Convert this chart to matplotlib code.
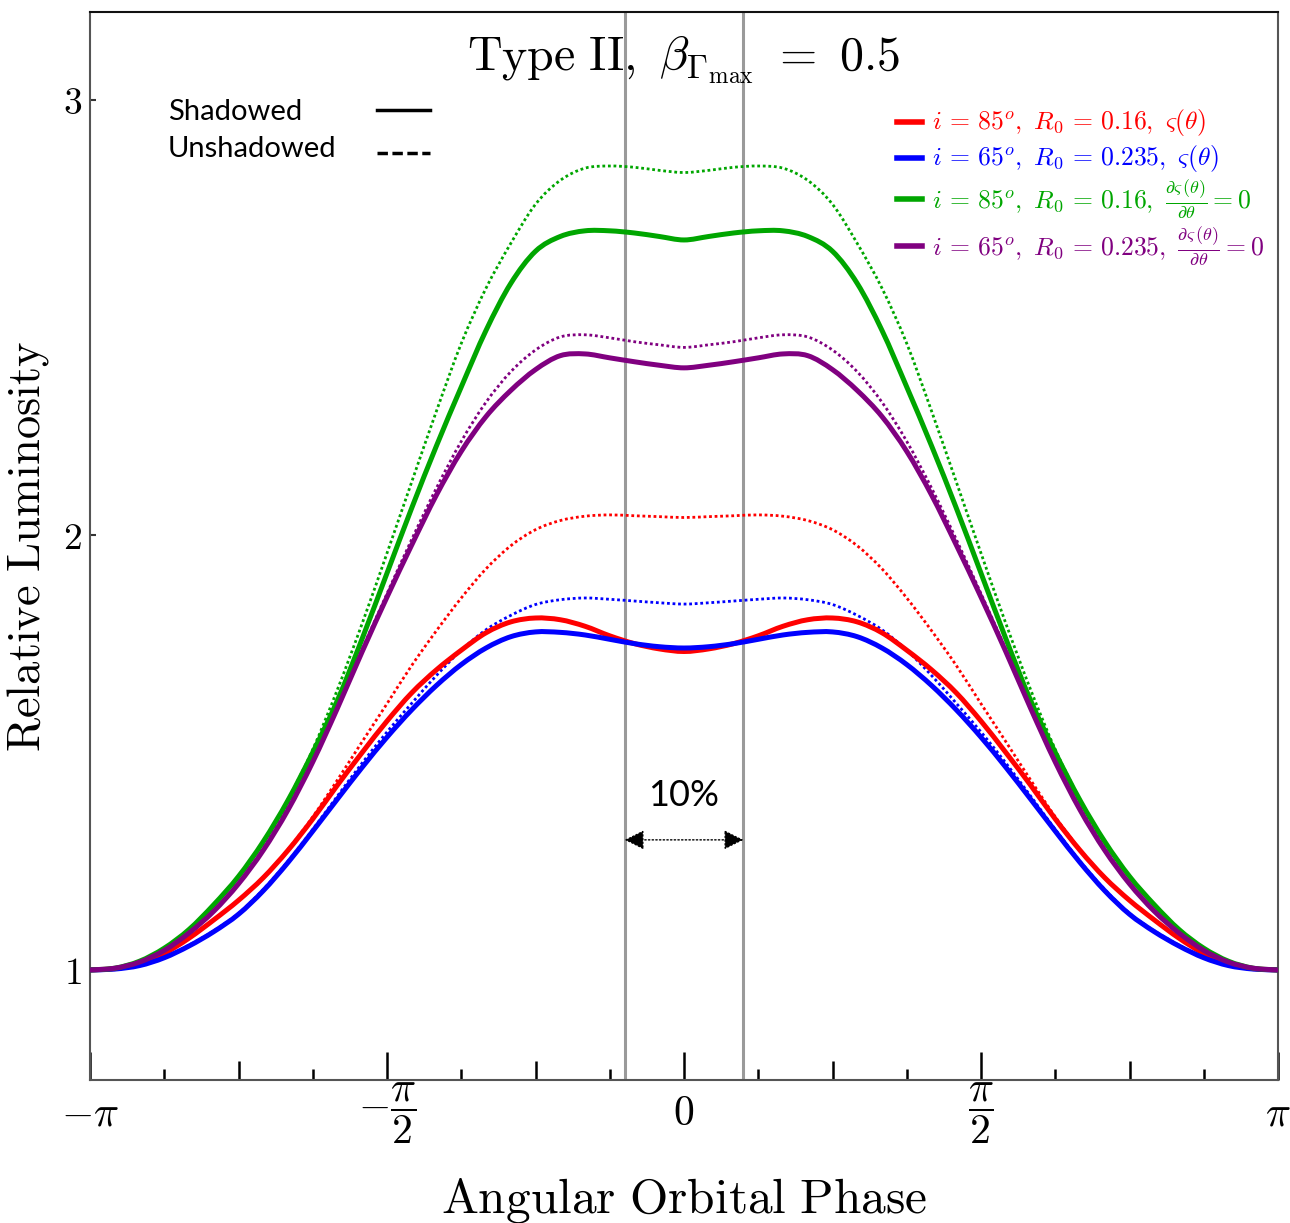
import numpy as np
import matplotlib
matplotlib.use("Agg")
import matplotlib.pyplot as plt
from matplotlib.path import Path
from matplotlib.patches import PathPatch

plt.rcParams["mathtext.fontset"] = "cm"

# phase grid (right half, 0..pi in steps of pi/24); curves are symmetric about 0
phase_half = np.arange(25) * np.pi / 24

# k = 0..24
red_shadowed = [1.732, 1.738, 1.750, 1.768, 1.790, 1.805, 1.809, 1.800, 1.775, 1.735,
                1.690, 1.637, 1.572, 1.500, 1.425, 1.347, 1.275, 1.212, 1.160, 1.115,
                1.073, 1.038, 1.015, 1.003, 1.000]
red_unshadowed = [2.040, 2.042, 2.044, 2.046, 2.043, 2.033, 2.012, 1.975, 1.922, 1.855,
                  1.780, 1.700, 1.612, 1.525, 1.437, 1.352, 1.277, 1.213, 1.161, 1.116,
                  1.074, 1.039, 1.015, 1.003, 1.000]
blue_shadowed = [1.740, 1.743, 1.750, 1.760, 1.770, 1.776, 1.777, 1.766, 1.740, 1.702,
                 1.654, 1.598, 1.535, 1.466, 1.393, 1.319, 1.247, 1.182, 1.128, 1.088,
                 1.055, 1.028, 1.010, 1.002, 1.000]
blue_unshadowed = [1.841, 1.844, 1.848, 1.852, 1.855, 1.851, 1.840, 1.815, 1.782, 1.735,
                   1.677, 1.613, 1.547, 1.476, 1.400, 1.323, 1.250, 1.185, 1.130, 1.090,
                   1.057, 1.029, 1.011, 1.002, 1.000]
green_shadowed = [2.678, 2.686, 2.694, 2.699, 2.699, 2.686, 2.652, 2.578, 2.470, 2.340,
                  2.205, 2.062, 1.912, 1.762, 1.620, 1.500, 1.390, 1.295, 1.215, 1.150,
                  1.093, 1.050, 1.020, 1.004, 1.000]
green_unshadowed = [2.833, 2.838, 2.845, 2.848, 2.843, 2.815, 2.760, 2.670, 2.567, 2.440,
                    2.285, 2.122, 1.958, 1.797, 1.645, 1.507, 1.392, 1.296, 1.216, 1.150,
                    1.093, 1.050, 1.020, 1.004, 1.000]
purple_shadowed = [2.384, 2.390, 2.398, 2.407, 2.416, 2.412, 2.380, 2.332, 2.272, 2.192,
                   2.092, 1.977, 1.857, 1.732, 1.602, 1.478, 1.368, 1.275, 1.198, 1.135,
                   1.085, 1.045, 1.018, 1.004, 1.000]
purple_unshadowed = [2.431, 2.437, 2.444, 2.453, 2.460, 2.455, 2.425, 2.375, 2.305, 2.215,
                     2.108, 1.990, 1.865, 1.738, 1.610, 1.487, 1.375, 1.280, 1.200, 1.137,
                     1.087, 1.046, 1.018, 1.004, 1.000]

legend_labels = [r"$i\,=\,85^o,\ R_0\,=\,0.16,\ \varsigma(\theta)$",
                 r"$i\,=\,65^o,\ R_0\,=\,0.235,\ \varsigma(\theta)$",
                 r"$i\,=\,85^o,\ R_0\,=\,0.16,\ \frac{\partial\varsigma\,(\theta)}{\partial\theta}{=}0$",
                 r"$i\,=\,65^o,\ R_0\,=\,0.235,\ \frac{\partial\varsigma\,(\theta)}{\partial\theta}{=}0$"]
colors = ["#ff0000", "#0000ff", "#00a600", "#800080"]

window = 0.1 * np.pi  # 10% of the orbit either side


def full(half):
    half = np.asarray(half)
    return np.concatenate([half[::-1], half[1:]])


def smooth_path(x, y):
    # Catmull-Rom through the read points, drawn as cubic Bezier segments
    pts = np.column_stack([x, y])
    p = np.vstack([pts[0], pts, pts[-1]])
    verts = [pts[0]]
    codes = [Path.MOVETO]
    for i in range(1, len(p) - 2):
        c1 = p[i] + (p[i + 1] - p[i - 1]) / 6
        c2 = p[i + 1] - (p[i + 2] - p[i]) / 6
        verts += [c1, c2, p[i + 1]]
        codes += [Path.CURVE4] * 3
    return Path(verts, codes)


phase = np.concatenate([-phase_half[::-1], phase_half[1:]])
shadowed = [red_shadowed, blue_shadowed, green_shadowed, purple_shadowed]
unshadowed = [red_unshadowed, blue_unshadowed, green_unshadowed, purple_unshadowed]

fig = plt.figure(figsize=(12.9, 12.23), dpi=100)
ax = fig.add_axes([90 / 1290, 1 - 1080 / 1223, (1278 - 90) / 1290, (1080 - 12) / 1223])

ax.axvline(-window, color="#9a9a9a", lw=2.2, zorder=1)
ax.axvline(window, color="#9a9a9a", lw=2.2, zorder=1)

for vals, c in zip(unshadowed, colors):
    ax.add_patch(PathPatch(smooth_path(phase, full(vals)), facecolor="none", edgecolor=c,
                           lw=2.0, linestyle=(0, (1, 1)), zorder=2))
for vals, c in zip(shadowed, colors):
    ax.add_patch(PathPatch(smooth_path(phase, full(vals)), facecolor="none", edgecolor=c,
                           lw=3.6, capstyle="round", zorder=3))

ax.set_xlim(-np.pi, np.pi)
ax.set_ylim(0.747, 3.202)

for s in ax.spines.values():
    s.set_color("#555555")
    s.set_linewidth(1.5)
ax.spines["top"].set_color("#111111")

ax.set_xticks([-np.pi, -np.pi / 2, 0, np.pi / 2, np.pi])
ax.set_xticklabels([r"$-\pi$", r"$-\dfrac{\pi}{2}$", r"$0$", r"$\dfrac{\pi}{2}$", r"$\pi$"], fontsize=30)
ax.set_xticks(np.arange(-7, 8, 2) * np.pi / 8, minor=True)
ax.tick_params(axis="x", which="major", direction="in", length=20, width=1.8, color="black", pad=24)
ax.tick_params(axis="x", which="minor", direction="in", length=8, width=1.8, color="black")
for lbl in ax.get_xticklabels():
    lbl.set_verticalalignment("center")

sec = ax.secondary_xaxis("bottom")
sec.set_xticks(np.array([-3, -1, 1, 3]) * np.pi / 4)
sec.tick_params(direction="in", length=14, width=1.8, color="black", labelbottom=False)
sec.spines["bottom"].set_visible(False)

ax.set_yticks([1, 2, 3])
ax.set_yticklabels([r"$1$", r"$2$", r"$3$"], fontsize=27)
ax.tick_params(axis="y", direction="in", length=4, width=1.5, color="#333333", pad=6)

ax.set_xlabel(r"$\mathrm{Angular\ Orbital\ Phase}$", fontsize=35.5, labelpad=22)
ax.set_ylabel(r"$\mathrm{Relative\ Luminosity}$", fontsize=33.5, labelpad=8)

ax.text(0, 3.092, r"$\mathrm{Type\ II},\ \beta_{\Gamma_{\max}}\ =\ 0.5$", fontsize=34.5,
        ha="center", va="center")

# 10% window arrow
ax.annotate("", xy=(-window, 1.299), xytext=(window, 1.299),
            arrowprops=dict(arrowstyle="<|-|>", color="black", lw=1.0, linestyle=":",
                            mutation_scale=30, shrinkA=0, shrinkB=0))
ax.text(0, 1.40, "10%", fontsize=26, family="Lato", ha="center", va="center")

# style key (top left)
fig.text(168 / 1290, 1 - 112 / 1223, "Shadowed", fontsize=21, family="Lato", va="center")
fig.text(168 / 1290, 1 - 149 / 1223, "Unshadowed", fontsize=21, family="Lato", va="center")
ax.plot([0.242, 0.286], [0.908, 0.908], transform=ax.transAxes, color="black", lw=2.5)
ax.plot([0.242, 0.286], [0.868, 0.868], transform=ax.transAxes, color="black", lw=2.5,
        linestyle=(0, (3, 1.3)))

# colour key (top right)
key_y = [122, 158, 199, 246]
for ypix, c, lab in zip(key_y, colors, legend_labels):
    yf = 1 - ypix / 1223
    fig.add_artist(plt.Line2D([897 / 1290, 922 / 1290], [yf, yf], color=c, lw=4))
    fig.text(932 / 1290, yf, lab, color=c, fontsize=18.5, va="center")

fig.savefig("out.png", dpi=100)
